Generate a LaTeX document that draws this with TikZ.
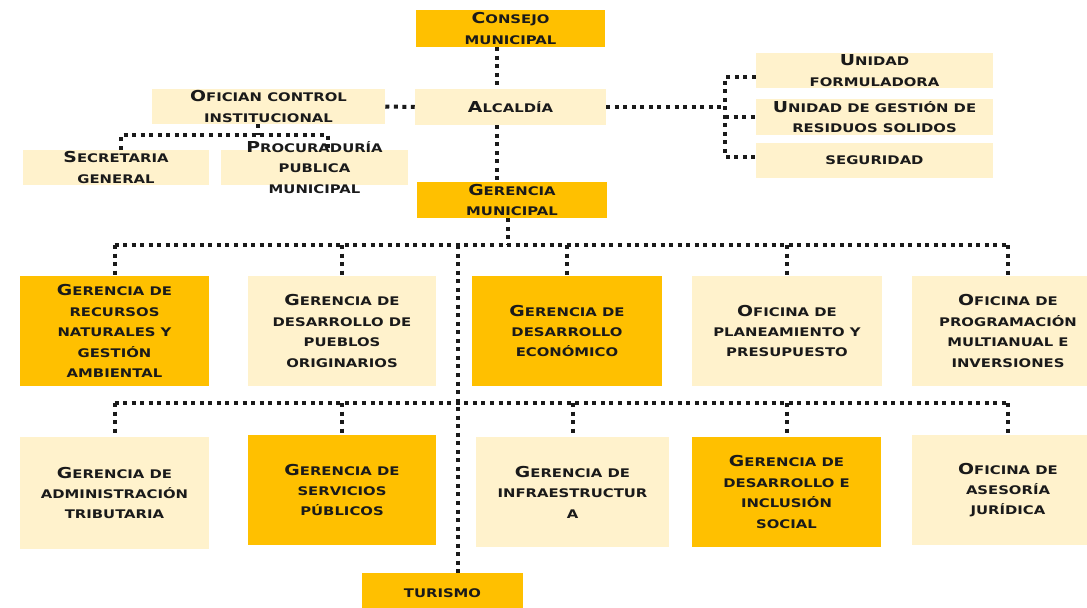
\documentclass[tikz,border=0pt]{standalone}
\usepackage{fontspec}
\newfontfamily\orgfont{DejaVu Sans}[FakeStretch=1.25]
\definecolor{orggold}{HTML}{FFC000}
\definecolor{orgcream}{HTML}{FFF2CC}
\definecolor{orgink}{HTML}{1A1A1A}
\newcommand{\bigini}[1]{{\fontsize{11.3pt}{15.3pt}\selectfont #1}}
\tikzset{
  hot/.style={fill=orggold, align=center, inner sep=0pt, text=orgink, font=\orgfont\bfseries\fontsize{8.9pt}{15.3pt}\selectfont},
  pale/.style={hot, fill=orgcream},
  box/.style 2 args={minimum width=#1*0.75pt, minimum height=#2*0.75pt},
  dotln/.style={draw=orgink, line width=3pt, dash pattern=on 3pt off 3.4pt},
}
\begin{document}
\begin{tikzpicture}[x=0.75pt,y=-0.75pt]
  \useasboundingbox (0,0) rectangle (1087,607);
  \clip (0,0) rectangle (1087,607);
  \fill[white] (0,0) rectangle (1087,607);
  % top of the chart
  \node[hot, box={189}{37}] (cons) at (510.5,28.5) {\bigini{C}ONSEJO\\MUNICIPAL};
  \node[pale, box={191}{36}] (alc) at (510.5,107) {\bigini{A}LCALDÍA};
  \node[pale, box={233}{35}] (oci) at (268.5,106.5) {\bigini{O}FICIAN CONTROL\\INSTITUCIONAL};
  \node[pale, box={186}{35}] (sec) at (116,167.5) {\bigini{S}ECRETARIA\\GENERAL};
  \node[pale, box={187}{35}] (proc) at (314.5,167.5) {};
  \node[hot, fill=none] (proctxt) at (proc) {\bigini{P}ROCURADURÍA\\PUBLICA\\MUNICIPAL};
  \node[hot, box={190}{36}] (gm) at (512,200) {\bigini{G}ERENCIA\\MUNICIPAL};
  \node[pale, box={237}{35}] (uf) at (874.5,70.5) {\bigini{U}NIDAD\\FORMULADORA};
  \node[pale, box={237}{36}] (ug) at (874.5,117) {\bigini{U}NIDAD DE GESTIÓN DE\\RESIDUOS SOLIDOS};
  \node[pale, box={237}{35}] (seg) at (874.5,160.5) {SEGURIDAD};
  % first row of offices
  \node[hot, box={189}{110}] (b1) at (114.5,331) {\bigini{G}ERENCIA DE\\RECURSOS\\NATURALES Y\\GESTIÓN\\AMBIENTAL};
  \node[pale, box={188}{110}] (b2) at (342,331) {\bigini{G}ERENCIA DE\\DESARROLLO DE\\PUEBLOS\\ORIGINARIOS};
  \node[hot, box={190}{110}] (b3) at (567,331) {\bigini{G}ERENCIA DE\\DESARROLLO\\ECONÓMICO};
  \node[pale, box={190}{110}] (b4) at (787,331) {\bigini{O}FICINA DE\\PLANEAMIENTO Y\\PRESUPUESTO};
  \node[pale, box={192}{110}] (b5) at (1008,331) {\bigini{O}FICINA DE\\PROGRAMACIÓN\\MULTIANUAL E\\INVERSIONES};
  % second row of offices
  \node[pale, box={189}{112}] (c1) at (114.5,493) {\bigini{G}ERENCIA DE\\ADMINISTRACIÓN\\TRIBUTARIA};
  \node[hot, box={188}{110}] (c2) at (342,490) {\bigini{G}ERENCIA DE\\SERVICIOS\\PÚBLICOS};
  \node[pale, box={193}{110}] (c3) at (572.5,492) {\bigini{G}ERENCIA DE\\INFRAESTRUCTUR\\A};
  \node[hot, box={189}{110}] (c4) at (786.5,492) {\bigini{G}ERENCIA DE\\DESARROLLO E\\INCLUSIÓN\\SOCIAL};
  \node[pale, box={192}{110}] (c5) at (1008,490) {\bigini{O}FICINA DE\\ASESORÍA\\JURÍDICA};
  \node[hot, box={161}{40}] (tur) at (442.5,593) {TURISMO};
  % dotted connectors
  \coordinate (spine) at (497,0);
  \coordinate (bus1) at (508,245);
  \coordinate (trunk) at (458,245);
  \coordinate (bus2) at (458,403);
  \coordinate (ocb) at (258,135);
  \coordinate (brk) at (725,107);
  \draw[dotln] (cons.south -| spine) -- (alc.north -| spine);
  \draw[dotln] (alc.south -| spine) -- (gm.north -| spine);
  \draw[dotln] (gm.south -| bus1) -- (bus1);
  \draw[dotln] (b1.north |- bus1) -- (b5.north |- bus1);
  \foreach \b in {b1,b2,b3,b4,b5} \draw[dotln] (\b.north |- bus1) -- (\b.north);
  \draw[dotln] (trunk) -- (trunk |- tur.north);
  \draw[dotln] (c1.north |- bus2) -- (c5.north |- bus2);
  \foreach \c in {c1,c2,c3,c4,c5} \draw[dotln] (\c.north |- bus2) -- (\c.north);
  \draw[dotln] (oci.east) -- (alc.west);
  \draw[dotln] (oci.south -| ocb) -- (ocb);
  \draw[dotln] ([xshift=4pt]sec.north) |- (ocb) -| ([xshift=10pt]proc.north);
  \draw[dotln] (alc.east) -- (brk);
  \draw[dotln] ([yshift=-5pt]uf.west) -| (brk) |- ([yshift=3pt]seg.west);
  \draw[dotln] (ug.west -| brk) -- (ug.west);
\end{tikzpicture}
\end{document}
